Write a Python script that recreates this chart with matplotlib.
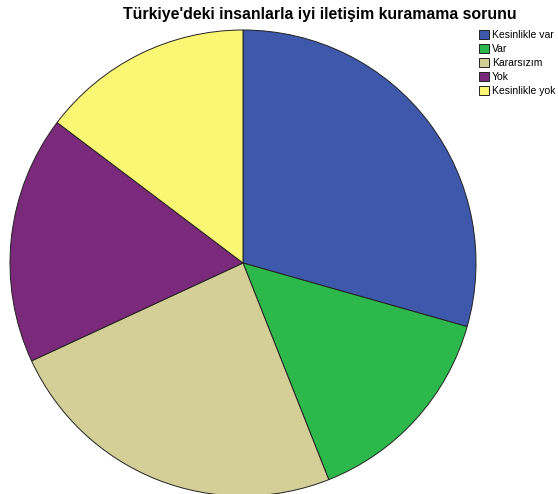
import matplotlib.pyplot as plt

labels = ["Kesinlikle var", "Var", "Kararsızım", "Yok", "Kesinlikle yok"]
values = [29.4, 14.6, 24.1, 17.2, 14.7]
colors = ["#3E58AC", "#2DB84C", "#D4CE97", "#7B2A7B", "#FBF774"]

plt.rcParams['font.family'] = ['Liberation Sans', 'DejaVu Sans']

fig = plt.figure(figsize=(5.58, 4.94), dpi=100)
ax = fig.add_axes([10 / 558, -2 / 494, 466 / 558, 466 / 494])

wedges, _ = ax.pie(values, colors=colors, startangle=90, counterclock=False,
                   radius=1.0,
                   wedgeprops=dict(edgecolor="#222222", linewidth=0.7))
ax.set_xlim(-1, 1)
ax.set_ylim(-1, 1)
ax.set_aspect("equal")

fig.text(320 / 558, 1 - 15 / 494, "Türkiye'deki insanlarla iyi iletişim kuramama sorunu",
         ha="center", va="center", fontsize=11.4, fontweight="bold")

fig.legend(wedges, labels, loc="upper left", bbox_to_anchor=(479 / 558, 1 - 30 / 494),
           frameon=False, fontsize=7.5, handlelength=1.0, handleheight=1.0,
           handletextpad=0.25, labelspacing=0.36, borderpad=0, borderaxespad=0)

fig.savefig("out.png", dpi=100)
